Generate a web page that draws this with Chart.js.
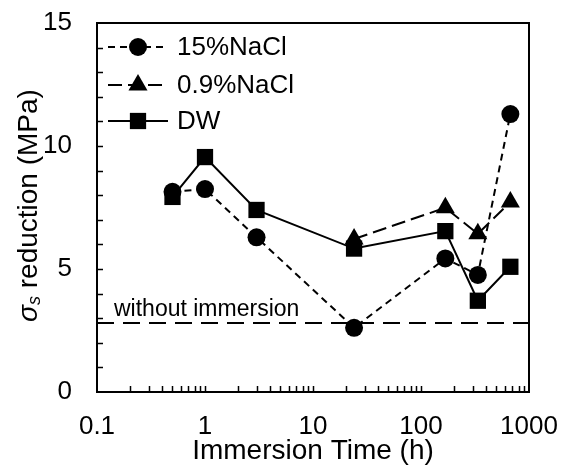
<!DOCTYPE html>
<html>
<head>
<meta charset="utf-8">
<script src="https://cdn.jsdelivr.net/npm/chart.js@4/dist/chart.umd.min.js"></script>
<style>
	body { margin: 0; background: #fff; }
	canvas { display: block; }
</style>
</head>
<body>
<canvas id="chart" width="562" height="465"></canvas>
<script>
// immersion times (h) and stress reduction values (MPa)
const timeHours = [0.5, 1, 3, 24, 168, 336, 672];
const nacl15 = [8.14, 8.25, 6.29, 2.61, 5.43, 4.76, 11.3];
const nacl09 = [null, null, null, 6.22, 7.49, 6.43, 7.72];
const dw = [7.93, 9.55, 7.4, 5.83, 6.54, 3.71, 5.09];
const withoutImmersion = 2.8;

const seriesNames = ["15%NaCl", "0.9%NaCl", "DW"];
const xDecades = [0.1, 1, 10, 100, 1000];
const yRange = [0, 15];

const FONT = '"Liberation Sans", Arial, sans-serif';

function toPoints(values) {
	return timeHours.map((t, i) => ({ x: t, y: values[i] }));
}

// legend with a short line and the marker in the middle, like the original
const lineLegend = {
	id: "lineLegend",
	afterDraw(chart) {
		const ctx = chart.ctx;
		const area = chart.chartArea;
		const rows = [24, 62, 98];
		ctx.save();
		for (let i = 0; i < 3; i++) {
			const ds = chart.data.datasets[i];
			const y = area.top + rows[i];
			ctx.strokeStyle = "#000";
			ctx.lineWidth = ds.borderWidth;
			ctx.setLineDash(ds.borderDash || []);
			ctx.beginPath();
			ctx.moveTo(area.left + 11, y);
			ctx.lineTo(area.left + 71, y);
			ctx.stroke();
			ctx.setLineDash([]);
			ctx.fillStyle = "#000";
			Chart.helpers.drawPoint(ctx, {
				pointStyle: ds.pointStyle,
				radius: ds.pointRadius,
				rotation: 0,
				borderWidth: 0,
			}, area.left + 41, y);
			ctx.font = "26px " + FONT;
			ctx.textAlign = "left";
			ctx.textBaseline = "middle";
			ctx.fillText(ds.label, area.left + 80, y + 1);
		}
		ctx.restore();
	},
};

// frame, inward tick marks, y title and the "without immersion" note
const frame = {
	id: "frame",
	afterDraw(chart) {
		const ctx = chart.ctx;
		const area = chart.chartArea;
		const xs = chart.scales.x;
		const ys = chart.scales.y;
		ctx.save();
		ctx.strokeStyle = "#000";
		ctx.lineWidth = 2;
		ctx.strokeRect(area.left, area.top, area.right - area.left, area.bottom - area.top);

		ctx.lineWidth = 1.5;
		ctx.beginPath();
		ys.ticks.forEach((t) => {
			if (t.value <= yRange[0] || t.value >= yRange[1]) return;
			const py = Math.round(ys.getPixelForValue(t.value)) + 0.5;
			ctx.moveTo(area.left, py);
			ctx.lineTo(area.left + 6, py);
		});
		for (let d = 0; d < xDecades.length - 1; d++) {
			for (let m = 1; m <= 9; m++) {
				if (d === 0 && m === 1) continue;
				const px = Math.round(xs.getPixelForValue(xDecades[d] * m)) + 0.5;
				ctx.moveTo(px, area.bottom);
				ctx.lineTo(px, area.bottom - 6);
			}
		}
		ctx.stroke();

		// y axis title with italic sigma and subscript s
		const parts = [
			{ text: "σ", font: "italic 28px " + FONT, dy: 0 },
			{ text: "s", font: "italic 18px " + FONT, dy: 3 },
			{ text: " reduction (MPa)", font: "28px " + FONT, dy: 0 },
		];
		let total = 0;
		parts.forEach((p) => {
			ctx.font = p.font;
			p.w = ctx.measureText(p.text).width;
			total += p.w;
		});
		ctx.translate(37, (area.top + area.bottom) / 2 - 2);
		ctx.rotate(-Math.PI / 2);
		ctx.fillStyle = "#000";
		ctx.textAlign = "left";
		ctx.textBaseline = "alphabetic";
		let cx = -total / 2;
		parts.forEach((p) => {
			ctx.font = p.font;
			ctx.fillText(p.text, cx, p.dy);
			cx += p.w;
		});
		ctx.restore();

		ctx.save();
		ctx.fillStyle = "#000";
		ctx.font = "23px " + FONT;
		ctx.textAlign = "left";
		ctx.textBaseline = "alphabetic";
		ctx.fillText("without immersion", area.left + 17, ys.getPixelForValue(withoutImmersion) - 7);
		ctx.restore();
	},
};

const ctx = document.getElementById("chart").getContext("2d");

const chart = new Chart(ctx, {
	type: "line",
	data: {
		datasets: [
			{
				label: seriesNames[0],
				data: toPoints(nacl15),
				borderColor: "#000",
				backgroundColor: "#000",
				borderWidth: 2,
				borderDash: [7, 5],
				pointStyle: "circle",
				pointRadius: 9,
				pointBorderWidth: 0,
			},
			{
				label: seriesNames[1],
				data: toPoints(nacl09),
				borderColor: "#000",
				backgroundColor: "#000",
				borderWidth: 2,
				borderDash: [14, 6],
				pointStyle: "triangle",
				pointRadius: 11,
				pointBorderWidth: 0,
			},
			{
				label: seriesNames[2],
				data: toPoints(dw),
				borderColor: "#000",
				backgroundColor: "#000",
				borderWidth: 2,
				borderDash: [],
				pointStyle: "rect",
				pointRadius: 11.5,
				pointBorderWidth: 0,
			},
			{
				label: "without immersion",
				data: [
					{ x: xDecades[0], y: withoutImmersion },
					{ x: xDecades[xDecades.length - 1], y: withoutImmersion },
				],
				borderColor: "#000",
				borderWidth: 2,
				borderDash: [17, 9],
				pointRadius: 0,
			},
		],
	},
	options: {
		responsive: false,
		animation: false,
		devicePixelRatio: 1,
		layout: {
			padding: { left: 0, right: 33, top: 23, bottom: 0 },
		},
		elements: {
			line: { tension: 0 },
		},
		plugins: {
			legend: { display: false },
			tooltip: { enabled: false },
		},
		scales: {
			x: {
				type: "logarithmic",
				min: xDecades[0],
				max: xDecades[xDecades.length - 1],
				grid: { display: false, drawTicks: false },
				border: { display: false },
				afterBuildTicks(scale) {
					scale.ticks = xDecades.map((v) => ({ value: v }));
				},
				afterFit(scale) {
					scale.height = 73;
					scale.paddingLeft = 0;
					scale.paddingRight = 0;
				},
				ticks: {
					autoSkip: false,
					maxRotation: 0,
					padding: 19,
					color: "#000",
					font: { family: FONT, size: 26 },
					callback: (v) => String(v),
				},
				title: {
					display: true,
					text: "Immersion Time (h)",
					color: "#000",
					font: { family: FONT, size: 28, lineHeight: 1 },
					padding: { top: 0, bottom: 0 },
				},
			},
			y: {
				min: yRange[0],
				max: yRange[1],
				grid: { display: false, drawTicks: false },
				border: { display: false },
				afterFit(scale) {
					scale.width = 97;
					scale.paddingTop = 0;
					scale.paddingBottom = 0;
				},
				ticks: {
					stepSize: 1,
					autoSkip: false,
					padding: 25,
					color: "#000",
					font: { family: FONT, size: 26 },
					callback: (v) => (v % 5 === 0 ? String(v) : ""),
				},
			},
		},
	},
	plugins: [frame, lineLegend],
});
</script>
</body>
</html>
